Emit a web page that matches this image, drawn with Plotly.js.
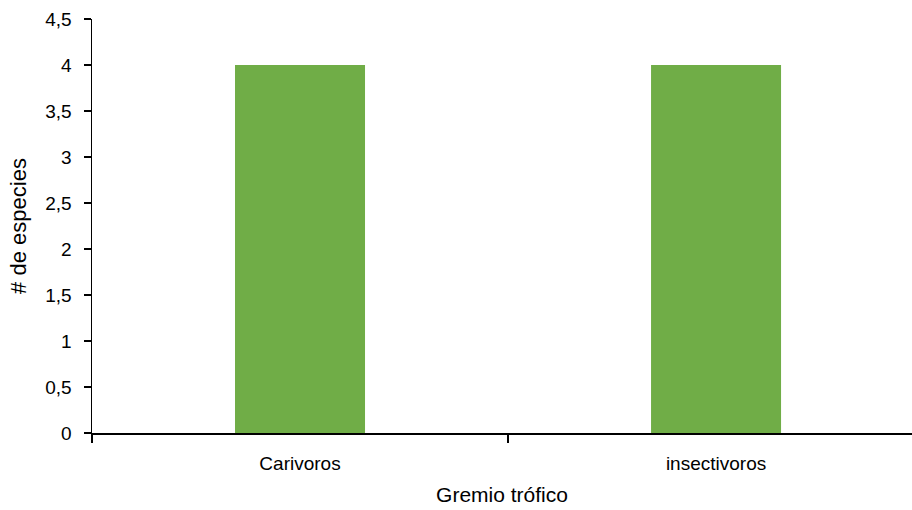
<!DOCTYPE html>
<html>
<head>
<meta charset="utf-8">
<script src="https://cdn.plot.ly/plotly-3.0.1.min.js"></script>
<style>html,body{margin:0;padding:0;background:#fff;}</style>
</head>
<body>
<div id="chart" style="width:912px;height:510px;"></div>
<script>
const categories = ["Carivoros", "insectivoros"];
const especies = [4, 4];
const yTicks = [0, 0.5, 1, 1.5, 2, 2.5, 3, 3.5, 4, 4.5];

const font = {family: "Liberation Sans, Arial, sans-serif", color: "#000"};

Plotly.newPlot("chart", [{
  type: "bar",
  x: categories,
  y: especies,
  marker: {color: "#70AD47"},
  hoverinfo: "none"
}], {
  width: 912, height: 510,
  separators: ",.",
  margin: {l: 92, r: 0, t: 19, b: 77},
  paper_bgcolor: "#fff", plot_bgcolor: "#fff",
  bargap: 0.6875,
  showlegend: false,
  font: Object.assign({size: 19}, font),
  xaxis: {
    type: "category",
    range: [-0.5, 1.471],
    showline: true, linecolor: "#000", linewidth: 1.5,
    ticks: "outside", tickson: "boundaries", ticklen: 8, tickcolor: "#000", tickwidth: 1.5,
    ticklabelstandoff: 13,
    showgrid: false, zeroline: false,
    tickfont: Object.assign({size: 19}, font),
    title: {text: "Gremio trófico", font: Object.assign({size: 21}, font), standoff: 14}
  },
  yaxis: {
    range: [0, 4.5],
    tickvals: yTicks,
    showline: true, linecolor: "#000", linewidth: 1.5,
    ticks: "outside", ticklen: 7, tickcolor: "#000", tickwidth: 1.5,
    ticklabelstandoff: 8,
    showgrid: false, zeroline: false,
    tickfont: Object.assign({size: 19}, font),
    title: {text: "# de especies", font: Object.assign({size: 22}, font), standoff: 12}
  }
}, {staticPlot: true});
</script>
</body>
</html>
